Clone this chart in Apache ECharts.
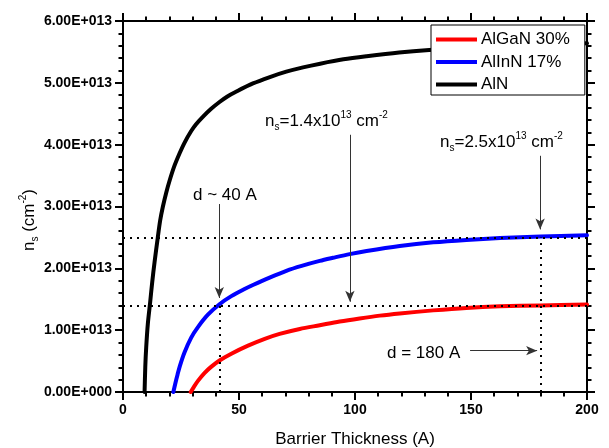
<!DOCTYPE html>
<html>
<head>
<meta charset="utf-8">
<script src="https://cdn.jsdelivr.net/npm/echarts@6/dist/echarts.min.js"></script>
<style>
  html, body { margin: 0; padding: 0; background: #fff; }
  #chart { width: 609px; height: 448px; }
</style>
</head>
<body>
<div id="chart"></div>
<script>
// ---------- data (barrier thickness in A, sheet density in cm^-2) ----------
const seriesNames = ['AlGaN 30%', 'AlInN 17%', 'AlN'];

const thicknessAlGaN = [29.2, 30.5, 32.3, 35.2, 38.1, 41.6, 46.7, 53.9, 61.1, 67.5, 76.2, 84.8, 93.4, 102, 110.7, 119.3, 133.7, 148, 162.5, 180, 200];
const nsAlGaN = [0, 0.08e13, 0.18e13, 0.31e13, 0.41e13, 0.51e13, 0.62e13, 0.75e13, 0.86e13, 0.94e13, 1.02e13, 1.08e13, 1.14e13, 1.19e13, 1.235e13, 1.27e13, 1.32e13, 1.36e13, 1.385e13, 1.40e13, 1.415e13];

const thicknessAlInN = [21.7, 22.5, 23.5, 24.5, 26.5, 29.4, 32.3, 36.6, 41.6, 46.7, 52.4, 56, 63.2, 70.4, 77, 84.8, 90.5, 97.7, 105, 119.3, 133.7, 148, 162.5, 180, 200];
const nsAlInN = [0, 0.13e13, 0.28e13, 0.42e13, 0.64e13, 0.88e13, 1.05e13, 1.25e13, 1.42e13, 1.55e13, 1.665e13, 1.73e13, 1.85e13, 1.96e13, 2.04e13, 2.12e13, 2.17e13, 2.23e13, 2.28e13, 2.36e13, 2.42e13, 2.46e13, 2.49e13, 2.515e13, 2.535e13];

const thicknessAlN = [9.3, 9.6, 10, 10.7, 11.7, 12.6, 13.6, 15, 16, 17.2, 18.6, 20.1, 22, 24.4, 26.5, 29.4, 31.5, 34.4, 38, 41.6, 45, 48.9, 56, 63, 70.4, 77.6, 85, 95, 105, 119, 132, 150, 175, 200];
const nsAlN = [0, 0.4e13, 0.72e13, 1.1e13, 1.45e13, 1.78e13, 2.1e13, 2.5e13, 2.77e13, 3.0e13, 3.22e13, 3.42e13, 3.64e13, 3.86e13, 4.03e13, 4.22e13, 4.33e13, 4.45e13, 4.58e13, 4.69e13, 4.78e13, 4.86e13, 4.99e13, 5.09e13, 5.18e13, 5.25e13, 5.31e13, 5.38e13, 5.43e13, 5.49e13, 5.53e13, 5.57e13, 5.61e13, 5.64e13];

// axis ranges / ticks
const xMin = 0, xMax = 200, xStep = 50;
const yMin = 0, yMax = 6e13, yStep = 1e13;

// reference levels and marker positions (data units)
const nsLevels = [1.4e13, 2.5e13];
const dMarks = [41.5, 180];
// arrows: [x1, y1, x2, y2] in data units
const arrows = [
  [41.5, 3.04e13, 41.5, 1.52e13],
  [97.8, 4.16e13, 97.8, 1.46e13],
  [179.8, 3.82e13, 179.8, 2.63e13],
  [149.6, 0.668e13, 178.5, 0.668e13]
];

// ---------- helpers ----------
function sci(v) {
  if (Math.abs(v) < 1e-6) return '0.00E+000';
  let e = Math.floor(Math.log10(Math.abs(v)) + 1e-9);
  let m = v / Math.pow(10, e);
  return m.toFixed(2) + 'E+' + String(e).padStart(3, '0');
}
function pairs(xs, ys) { return xs.map((x, i) => [x, ys[i]]); }

const FONT = 'Liberation Sans, Arial, sans-serif';
const richStyles = {
  m: { fontSize: 17, fontFamily: FONT, color: '#000', lineHeight: 22 },
  sub: { fontSize: 10, fontFamily: FONT, color: '#000', lineHeight: 4, verticalAlign: 'bottom' },
  sup: { fontSize: 10, fontFamily: FONT, color: '#000', lineHeight: 10, verticalAlign: 'top' }
};

const dotted = { color: '#000', width: 2, type: [2, 5] };
const arrowStyle = { color: '#333', width: 1, type: 'solid' };

const markLineData = [];
nsLevels.forEach(v => markLineData.push([{ coord: [xMin, v], lineStyle: dotted }, { coord: [xMax, v] }]));
dMarks.forEach((d, i) => markLineData.push([{ coord: [d, 0], lineStyle: dotted }, { coord: [d, nsLevels[i]] }]));
arrows.forEach(a => markLineData.push([
  { coord: [a[0], a[1]], lineStyle: arrowStyle, symbol: 'none' },
  { coord: [a[2], a[3]], symbol: 'arrow', symbolSize: [7, 11] }
]));

const colors = ['#ff0000', '#0000ff', '#000000'];
const allData = [pairs(thicknessAlGaN, nsAlGaN), pairs(thicknessAlInN, nsAlInN), pairs(thicknessAlN, nsAlN)];

const series = seriesNames.map((name, i) => ({
  name: name,
  type: 'line',
  xAxisIndex: 0,
  yAxisIndex: 0,
  data: allData[i],
  showSymbol: false,
  symbol: 'none',
  smooth: 0.3,
  lineStyle: { color: colors[i], width: 4, cap: 'round', join: 'round' },
  itemStyle: { color: colors[i] },
  silent: true,
  z: 3
}));
series.push({
  type: 'line',
  data: [],
  silent: true,
  z: 4,
  markLine: {
    silent: true,
    animation: false,
    symbol: ['none', 'none'],
    label: { show: false },
    emphasis: { disabled: true },
    itemStyle: { color: '#111' },
    data: markLineData
  }
});

const axisCommon = {
  axisLine: { show: true, onZero: false, lineStyle: { color: '#000', width: 2 } },
  axisTick: { show: true, inside: false, length: 8, lineStyle: { color: '#000', width: 2 } },
  minorTick: { show: true, splitNumber: 5, length: 4.5, lineStyle: { color: '#000', width: 2 } },
  splitLine: { show: false },
  minorSplitLine: { show: false }
};

const option = {
  animation: false,
  backgroundColor: '#fff',
  grid: { left: 123, right: 22, top: 21, bottom: 56, containLabel: false, outerBoundsMode: 'none' },
  xAxis: [
    Object.assign({}, axisCommon, {
      type: 'value', position: 'bottom', min: xMin, max: xMax, interval: xStep,
      axisLabel: { show: true, margin: 11, color: '#000', fontSize: 14, fontWeight: 'bold', fontFamily: FONT },
      name: 'Barrier Thickness (A)', nameLocation: 'middle', nameGap: 39,
      nameTextStyle: { fontSize: 17, fontFamily: FONT, color: '#000' }
    }),
    Object.assign({}, axisCommon, {
      type: 'value', position: 'top', min: xMin, max: xMax, interval: xStep,
      axisLabel: { show: false }
    })
  ],
  yAxis: [
    Object.assign({}, axisCommon, {
      type: 'value', position: 'left', min: yMin, max: yMax, interval: yStep,
      axisLabel: { show: true, margin: 11, color: '#000', fontSize: 14, fontWeight: 'bold', fontFamily: FONT, formatter: sci }
    }),
    Object.assign({}, axisCommon, {
      type: 'value', position: 'right', min: yMin, max: yMax, interval: yStep,
      axisLabel: { show: false }
    })
  ],
  legend: {
    orient: 'vertical',
    left: 431, top: 25,
    data: seriesNames,
    icon: 'rect',
    itemWidth: 41, itemHeight: 4,
    itemGap: 5.5,
    padding: [6, 15, 2, 5],
    backgroundColor: '#fff',
    borderColor: '#000', borderWidth: 1,
    textStyle: { fontSize: 17, fontFamily: FONT, color: '#000', padding: [0, 0, 0, -1] },
    selectedMode: false,
    z: 10
  },
  graphic: [
    { type: 'text', x: 29, y: 220, rotation: Math.PI / 2,
      style: { text: '{m|n}{sub|s}{m| (cm}{sup|-2}{m|)}', rich: richStyles, align: 'center', verticalAlign: 'middle' } },
    { type: 'text', x: 193, y: 195.5,
      style: { text: '{m|d ~ 40 A}', rich: richStyles, align: 'left', verticalAlign: 'middle' } },
    { type: 'text', x: 265, y: 121,
      style: { text: '{m|n}{sub|s}{m|=1.4x10}{sup|13}{m| cm}{sup|-2}', rich: richStyles, align: 'left', verticalAlign: 'middle' } },
    { type: 'text', x: 440, y: 142.5,
      style: { text: '{m|n}{sub|s}{m|=2.5x10}{sup|13}{m| cm}{sup|-2}', rich: richStyles, align: 'left', verticalAlign: 'middle' } },
    { type: 'text', x: 387, y: 353.5,
      style: { text: '{m|d = 180 A}', rich: richStyles, align: 'left', verticalAlign: 'middle' } }
  ],
  series: series
};

const chart = echarts.init(document.getElementById('chart'), null, { renderer: 'canvas' });
chart.setOption(option);
</script>
</body>
</html>
